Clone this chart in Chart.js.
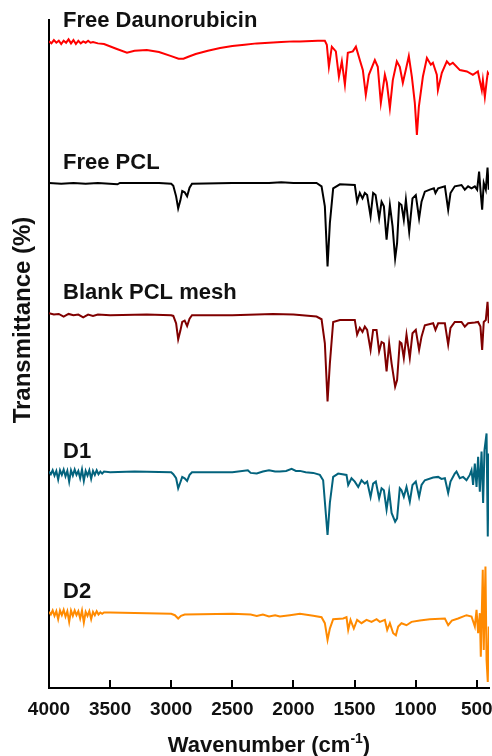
<!DOCTYPE html>
<html>
<head>
<meta charset="utf-8">
<script src="https://cdn.jsdelivr.net/npm/chart.js@4.4.1/dist/chart.umd.min.js"></script>
<style>
  html, body { margin: 0; padding: 0; background: #fff; }
  canvas { display: block; }
</style>
</head>
<body>
<canvas id="ftir-chart" width="492" height="756"></canvas>
<script>
// spectra: wavenumber (cm-1) and offset transmittance
const seriesNames = ['Free Daunorubicin', 'Free PCL', 'Blank PCL mesh', 'D1', 'D2'];
const xTicks = [4000, 3500, 3000, 2500, 2000, 1500, 1000, 500];

const daunoWn = [4000, 3980, 3960, 3940, 3920, 3900, 3880, 3860, 3840, 3820, 3800, 3780, 3760, 3740, 3720, 3700, 3680, 3660, 3640, 3600, 3550, 3450, 3362, 3300, 3200, 3100, 3000, 2940, 2900, 2860, 2800, 2700, 2600, 2500, 2400, 2300, 2200, 2100, 2000, 1947, 1800, 1743, 1727, 1710, 1686, 1653, 1628, 1604, 1579, 1555, 1514, 1489, 1457, 1432, 1408, 1383, 1334, 1310, 1285, 1252, 1236, 1211, 1187, 1154, 1130, 1105, 1081, 1056, 1031, 1007, 990, 974, 941, 908, 876, 859, 827, 818, 786, 745, 721, 696, 638, 581, 532, 491, 459, 450, 434, 418, 410, 400];
const daunoT = [96.8, 96.5, 97.0, 96.6, 96.9, 96.4, 96.9, 96.6, 97.1, 96.5, 97.0, 96.4, 96.9, 96.5, 96.8, 96.6, 96.9, 96.6, 96.7, 96.5, 96.4, 95.7, 95.1, 95.4, 95.5, 95.2, 94.6, 94.2, 94.2, 94.5, 94.9, 95.4, 95.8, 96.1, 96.3, 96.5, 96.6, 96.7, 96.8, 96.8, 96.9, 96.9, 96.3, 93.0, 96.0, 95.3, 91.5, 93.8, 90.3, 95.1, 95.3, 96.0, 94.0, 92.5, 88.8, 91.8, 94.0, 93.0, 87.6, 91.8, 90.6, 86.8, 91.0, 93.8, 93.0, 90.6, 92.5, 94.6, 91.5, 87.6, 82.8, 87.0, 91.5, 94.3, 93.3, 93.6, 91.8, 89.5, 92.1, 93.8, 93.3, 93.6, 92.5, 92.3, 91.8, 92.3, 89.5, 91.0, 88.5, 91.0, 92.1, 91.8];

const pclWn = [4000, 3900, 3800, 3700, 3600, 3440, 3420, 3100, 3000, 2983, 2960, 2943, 2925, 2910, 2890, 2870, 2850, 2830, 2500, 2200, 2100, 2000, 1811, 1770, 1743, 1721, 1702, 1675, 1620, 1498, 1479, 1457, 1435, 1416, 1397, 1369, 1348, 1328, 1299, 1279, 1260, 1238, 1211, 1189, 1168, 1152, 1135, 1116, 1097, 1080, 1053, 1026, 999, 972, 952, 925, 884, 851, 838, 816, 761, 734, 715, 680, 625, 598, 571, 543, 516, 497, 481, 470, 456, 443, 426, 412, 402];
const pclT = [75.6, 75.5, 75.6, 75.5, 75.6, 75.4, 75.6, 75.6, 75.5, 75.2, 73.6, 71.8, 73.0, 74.4, 74.2, 73.6, 74.9, 75.5, 75.6, 75.6, 75.7, 75.6, 75.6, 75.1, 72.1, 63.1, 69.6, 74.8, 75.4, 75.3, 72.8, 74.1, 73.3, 74.1, 73.8, 70.6, 74.1, 73.8, 70.3, 72.8, 72.1, 67.1, 72.3, 69.1, 64.3, 66.6, 72.6, 72.3, 70.1, 73.1, 68.3, 73.3, 73.8, 70.3, 72.8, 74.3, 74.6, 74.8, 74.1, 74.8, 75.1, 71.6, 74.1, 75.1, 75.3, 74.6, 75.1, 74.8, 75.1, 74.6, 77.3, 74.6, 71.6, 75.6, 74.6, 77.9, 74.6];

const meshWn = [4000, 3960, 3920, 3880, 3840, 3800, 3760, 3720, 3680, 3640, 3600, 3500, 3200, 3000, 2983, 2960, 2943, 2925, 2910, 2890, 2870, 2850, 2830, 2500, 2168, 2000, 1811, 1770, 1743, 1721, 1702, 1675, 1620, 1498, 1479, 1457, 1435, 1416, 1397, 1369, 1348, 1320, 1299, 1279, 1260, 1238, 1217, 1197, 1168, 1152, 1130, 1116, 1097, 1075, 1048, 1026, 999, 972, 952, 925, 857, 838, 816, 761, 734, 715, 680, 625, 598, 571, 516, 489, 470, 456, 443, 426, 412, 402];
const meshT = [56.1, 55.9, 56.0, 55.6, 56.0, 55.8, 55.9, 55.5, 55.9, 55.7, 55.9, 55.8, 55.9, 55.8, 55.7, 54.6, 52.2, 53.5, 54.8, 55.0, 54.2, 55.3, 55.8, 55.8, 56.0, 55.9, 55.6, 55.2, 51.6, 42.9, 48.6, 54.8, 55.1, 55.1, 52.9, 53.9, 53.3, 54.1, 53.6, 50.6, 53.6, 53.6, 50.4, 51.8, 51.6, 47.4, 51.6, 48.6, 45.1, 46.1, 51.8, 51.6, 49.4, 52.9, 49.4, 53.1, 53.6, 50.6, 52.6, 54.3, 54.6, 53.6, 54.6, 54.6, 51.4, 53.9, 54.8, 54.8, 54.1, 54.6, 54.7, 54.8, 54.1, 50.6, 54.8, 55.1, 57.8, 54.6];

const d1Wn = [4000, 3985, 3970, 3955, 3940, 3925, 3910, 3895, 3880, 3865, 3850, 3835, 3820, 3805, 3790, 3775, 3760, 3745, 3730, 3715, 3700, 3685, 3670, 3655, 3640, 3625, 3610, 3595, 3580, 3565, 3550, 3500, 3300, 3000, 2983, 2960, 2943, 2925, 2910, 2890, 2870, 2850, 2830, 2500, 2373, 2350, 2300, 2250, 2200, 2150, 2111, 2060, 2015, 1980, 1947, 1900, 1838, 1784, 1757, 1721, 1702, 1675, 1634, 1566, 1552, 1525, 1498, 1470, 1443, 1416, 1397, 1369, 1348, 1326, 1299, 1279, 1260, 1238, 1217, 1197, 1168, 1152, 1130, 1116, 1097, 1075, 1048, 1026, 999, 972, 952, 925, 857, 816, 789, 761, 734, 715, 680, 666, 639, 612, 584, 557, 543, 530, 516, 502, 489, 475, 461, 448, 437, 420, 410, 402];
const d1T = [32.4, 32.0, 32.6, 31.8, 32.5, 31.2, 32.6, 31.9, 32.7, 31.7, 32.5, 30.9, 32.6, 31.8, 32.7, 31.9, 32.5, 31.4, 32.7, 31.0, 32.5, 31.8, 32.6, 31.3, 32.5, 31.9, 32.6, 32.0, 32.4, 32.1, 32.4, 32.3, 32.4, 32.3, 32.0, 31.4, 29.9, 30.8, 31.6, 31.4, 31.0, 31.9, 32.3, 32.3, 32.6, 32.2, 32.1, 32.4, 32.6, 32.4, 32.4, 32.5, 32.8, 32.5, 32.5, 32.3, 32.2, 31.9, 31.1, 22.9, 27.7, 31.6, 32.1, 31.9, 30.4, 31.4, 30.9, 30.1, 31.1, 30.6, 30.9, 28.6, 30.6, 30.9, 28.4, 29.9, 29.6, 26.7, 29.4, 26.2, 24.9, 25.4, 29.9, 29.6, 28.6, 30.1, 27.9, 30.4, 30.9, 28.6, 30.4, 31.1, 31.5, 31.6, 31.3, 31.4, 29.2, 30.9, 32.1, 32.4, 31.4, 31.6, 31.1, 31.9, 32.6, 30.4, 33.6, 30.1, 34.6, 29.4, 35.4, 27.7, 35.6, 38.1, 22.7, 35.1];

const d2Wn = [4000, 3985, 3970, 3955, 3940, 3925, 3910, 3895, 3880, 3865, 3850, 3835, 3820, 3805, 3790, 3775, 3760, 3745, 3730, 3715, 3700, 3685, 3670, 3655, 3640, 3625, 3610, 3595, 3580, 3565, 3550, 3500, 3200, 3000, 2970, 2943, 2920, 2890, 2500, 2350, 2300, 2250, 2200, 2150, 2111, 2029, 1947, 1838, 1770, 1743, 1721, 1702, 1675, 1593, 1566, 1552, 1533, 1506, 1479, 1443, 1402, 1361, 1320, 1293, 1252, 1233, 1211, 1184, 1162, 1143, 1116, 1075, 1034, 966, 884, 761, 734, 704, 653, 584, 543, 516, 502, 489, 475, 467, 451, 443, 429, 420, 410, 402];
const d2T = [11.4, 11.0, 11.6, 10.8, 11.5, 10.3, 11.6, 10.9, 11.7, 10.7, 11.5, 9.9, 11.6, 10.8, 11.6, 10.9, 11.5, 10.4, 11.6, 9.8, 11.4, 10.8, 11.5, 10.3, 11.4, 10.9, 11.5, 11.0, 11.3, 11.1, 11.3, 11.3, 11.2, 11.1, 10.9, 10.4, 10.8, 11.0, 11.1, 11.0, 10.8, 11.0, 10.7, 10.9, 10.7, 10.9, 11.1, 10.8, 10.6, 9.7, 7.2, 8.9, 10.3, 10.4, 10.6, 8.7, 10.2, 8.9, 10.2, 9.7, 10.2, 9.9, 10.3, 9.9, 10.2, 8.7, 9.7, 8.2, 7.9, 9.2, 9.7, 9.4, 9.9, 10.1, 10.3, 10.4, 9.4, 10.1, 10.4, 10.9, 10.7, 9.2, 11.7, 8.2, 11.2, 4.7, 17.7, 5.7, 18.2, 4.2, 0.9, 9.2];

const seriesWn = [daunoWn, pclWn, meshWn, d1Wn, d2Wn];
const seriesT = [daunoT, pclT, meshT, d1T, d2T];
const seriesColors = ['#FF0000', '#000000', '#800000', '#03637D', '#FF8A00'];

const FONT = "'Liberation Sans', Arial, sans-serif";

const datasets = seriesNames.map((name, i) => ({
    label: name,
    data: seriesWn[i].map((w, j) => ({ x: w, y: seriesT[i][j] })),
    borderColor: seriesColors[i],
    borderWidth: 2,
    pointRadius: 0,
    tension: 0,
    fill: false
}));

// series names, inward ticks and axis titles
const decorations = {
    id: 'decorations',
    afterDraw(chart) {
        const ctx = chart.ctx;
        const area = chart.chartArea;
        const xs = chart.scales.x;
        ctx.save();

        // ticks pointing up into the plot
        ctx.strokeStyle = '#000';
        ctx.lineWidth = 2;
        xTicks.forEach(v => {
            const px = Math.round(xs.getPixelForValue(v));
            ctx.beginPath();
            ctx.moveTo(px, area.bottom);
            ctx.lineTo(px, area.bottom - 8);
            ctx.stroke();
        });

        ctx.fillStyle = '#111';
        ctx.font = 'bold 22px ' + FONT;
        ctx.textBaseline = 'middle';
        ctx.textAlign = 'left';
        chart.data.datasets.forEach((ds, i) => {
            const first = chart.getDatasetMeta(i).data[0];
            ctx.fillText(seriesNames[i], area.left + 14, first.y - 20);
        });

        // x title with superscript
        ctx.textBaseline = 'alphabetic';
        const a = 'Wavenumber (cm', b = '-1', c = ')';
        ctx.font = 'bold 22px ' + FONT;
        const wa = ctx.measureText(a).width;
        const wc = ctx.measureText(c).width;
        ctx.font = 'bold 14px ' + FONT;
        const wb = ctx.measureText(b).width;
        const x0 = (area.left + area.right) / 2 - (wa + wb + wc) / 2;
        const yb = 752;
        ctx.font = 'bold 22px ' + FONT;
        ctx.fillText(a, x0, yb);
        ctx.font = 'bold 14px ' + FONT;
        ctx.fillText(b, x0 + wa, yb - 9);
        ctx.font = 'bold 22px ' + FONT;
        ctx.fillText(c, x0 + wa + wb, yb);

        // y title
        ctx.translate(23, 320);
        ctx.rotate(-Math.PI / 2);
        ctx.textAlign = 'center';
        ctx.textBaseline = 'middle';
        ctx.font = 'bold 24px ' + FONT;
        ctx.fillText('Transmittance (%)', 0, 0);
        ctx.restore();
    }
};

new Chart(document.getElementById('ftir-chart'), {
    type: 'line',
    data: { datasets: datasets },
    options: {
        responsive: false,
        animation: false,
        layout: { padding: { left: 49, right: 3, top: 20, bottom: 0 } },
        plugins: {
            legend: { display: false },
            tooltip: { enabled: false }
        },
        scales: {
            x: {
                type: 'linear',
                reverse: true,
                min: 400,
                max: 4000,
                afterBuildTicks: scale => {
                    scale.ticks = xTicks.map(v => ({ value: v }));
                },
                afterFit: scale => {
                    scale.height = 68;
                    scale.paddingLeft = 0;
                    scale.paddingRight = 0;
                },
                grid: { display: false, drawTicks: false },
                border: { display: true, color: '#000', width: 2 },
                ticks: {
                    color: '#111',
                    padding: 10,
                    maxRotation: 0,
                    autoSkip: false,
                    font: { family: FONT, size: 19, weight: 'bold' },
                    callback: v => String(v)
                }
            },
            y: {
                min: 0,
                max: 100,
                afterFit: scale => { scale.width = 0; },
                grid: { display: false, drawTicks: false },
                border: { display: true, color: '#000', width: 2 },
                ticks: { display: false }
            }
        }
    },
    plugins: [decorations]
});
</script>
</body>
</html>
